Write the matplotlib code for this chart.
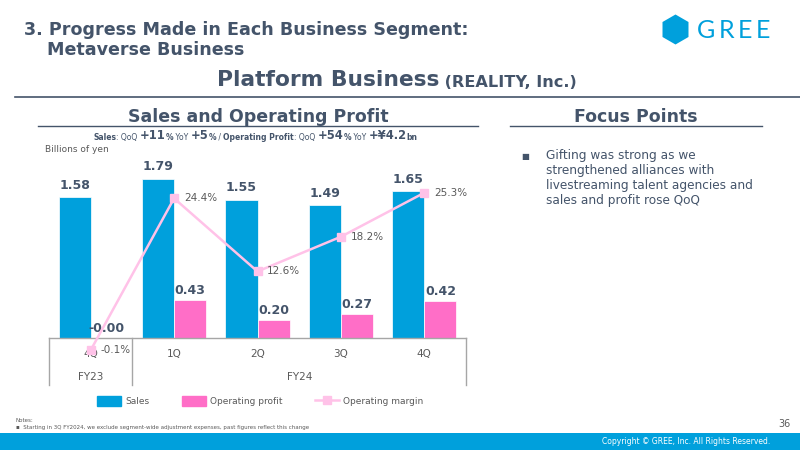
import matplotlib.pyplot as plt
from matplotlib.patches import Rectangle, RegularPolygon
from matplotlib.lines import Line2D
import numpy as np

# Data
quarters = ["4Q", "1Q", "2Q", "3Q", "4Q"]
fiscal_years = ["FY23", "FY24"]
fy_spans = [(0, 0), (1, 4)]
sales = [1.58, 1.79, 1.55, 1.49, 1.65]
op_profit = [-0.001, 0.43, 0.20, 0.27, 0.42]
op_margin = [-0.1, 24.4, 12.6, 18.2, 25.3]

focus_lines = ["Gifting was strong as we", "strengthened alliances with",
               "livestreaming talent agencies and", "sales and profit rose QoQ"]

BLUE = "#00A0DC"
PINK = "#FF6EC7"
LPINK = "#FFC2E8"
DARK = "#44546A"
GRAY = "#595959"

fig = plt.figure(figsize=(8, 4.5), dpi=100)

# background layer in pixel coordinates
bg = fig.add_axes([0, 0, 1, 1])
bg.set_xlim(0, 800)
bg.set_ylim(450, 0)
bg.axis("off")

bg.text(24, 30, "3. Progress Made in Each Business Segment:", fontsize=12.6,
        fontweight="bold", color=DARK, va="center")
bg.text(47, 50, "Metaverse Business", fontsize=12.6, fontweight="bold",
        color=DARK, va="center")
t = bg.text(217, 80, "Platform Business", fontsize=15.7, fontweight="bold",
            color=DARK, va="center")
bg.annotate(" (REALITY, Inc.)", xy=(1, 0), xycoords=t, va="bottom",
            fontsize=11.6, fontweight="bold", color=DARK)
bg.plot([15, 800], [97, 97], color=DARK, lw=1.2)

# logo
bg.add_patch(RegularPolygon((675.5, 29.5), numVertices=6, radius=15,
                            color=BLUE, ec="none"))
prev = bg.text(697, 30, "G", fontsize=18, color=BLUE, va="center",
               family="Lato")
for ch in "REE":
    prev = bg.annotate(ch, xy=(1, 0), xycoords=prev, xytext=(2.6, 0),
                       textcoords="offset points", va="bottom", fontsize=18,
                       color=BLUE, family="Lato")

# section headers
bg.text(258, 117, "Sales and Operating Profit", fontsize=12.5,
        fontweight="bold", color=DARK, ha="center", va="center")
bg.plot([38, 478], [126, 126], color=DARK, lw=1)
bg.text(636, 117, "Focus Points", fontsize=12.5, fontweight="bold",
        color=DARK, ha="center", va="center")
bg.plot([510, 762], [126, 126], color=DARK, lw=1)

# subtitle built from pieces
pieces = [("Sales", 5.5, "bold"), (": QoQ ", 5.5, "normal"),
          ("+11", 8.3, "bold"), ("%", 5.5, "bold"), (" YoY ", 5.5, "normal"),
          ("+5", 8.3, "bold"), ("%", 5.5, "bold"), (" / ", 5.5, "normal"),
          ("Operating Profit", 5.5, "bold"), (": QoQ ", 5.5, "normal"),
          ("+54", 8.3, "bold"), ("%", 5.5, "bold"), (" YoY ", 5.5, "normal"),
          ("+¥4.2", 8.3, "bold"), ("bn", 5.5, "bold")]
prev = bg.text(93, 140, pieces[0][0], fontsize=pieces[0][1],
               fontweight=pieces[0][2], color=DARK, va="baseline")
for txt, fs, fw in pieces[1:]:
    prev = bg.annotate(txt, xy=(1, 0), xycoords=prev, va="bottom",
                       fontsize=fs, fontweight=fw, color=DARK)
bg.text(45, 150, "Billions of yen", fontsize=6.5, color=GRAY, va="center")

# focus points
bg.text(521, 156, "■", fontsize=6, color=DARK, va="center")
for i, line in enumerate(focus_lines):
    bg.text(546, 156 + i * 14.7, line, fontsize=8.7, color=DARK, va="center")

# footer
bg.add_patch(Rectangle((0, 433), 800, 17, color=BLUE, ec="none"))
bg.text(770, 442, "Copyright © GREE, Inc. All Rights Reserved.", fontsize=5.5,
        color="white", ha="right", va="center")
bg.text(791, 424, "36", fontsize=7, color=GRAY, ha="right", va="center")
bg.text(15, 421, "Notes:", fontsize=4, color=GRAY, va="center")
bg.text(16, 428, "▪  Starting in 3Q FY2024, we exclude segment-wide adjustment "
        "expenses, past figures reflect this change", fontsize=4,
        color=GRAY, va="center")

# chart
ax = fig.add_axes([49 / 800, 1 - 338 / 450, 417 / 800, 188 / 450])
ax.patch.set_alpha(0)
x = np.arange(len(quarters))
w = 0.386
ax.bar(x - w / 2, sales, w, color=BLUE, ec="white", lw=0.5)
ax.bar(x + w / 2, op_profit, w, color=PINK, ec="white", lw=0.5)
ax.set_xlim(-0.5, 4.5)
ax.set_ylim(0, 2.112)
for s in ["top", "left", "right", "bottom"]:
    ax.spines[s].set_visible(False)
ax.set_yticks([])
ax.set_xticks(x)
ax.set_xticklabels(quarters, fontsize=7.5, color=GRAY)
ax.tick_params(axis="x", length=0, pad=8)

for xi, v in zip(x, sales):
    ax.annotate(f"{v:.2f}", (xi - w / 2, v), xytext=(0, 4),
                textcoords="offset points", ha="center", va="bottom",
                fontsize=9, fontweight="bold", color=DARK)
for xi, v in zip(x, op_profit):
    ax.annotate(f"{v:.2f}", (xi + w / 2, max(v, 0)), xytext=(0, 2),
                textcoords="offset points", ha="center", va="bottom",
                fontsize=9, fontweight="bold", color=DARK)

# category table lines
tr = ax.get_xaxis_transform()
ax.plot([-0.5, 4.5], [0, 0], color="#A6A6A6", lw=1, transform=tr,
        clip_on=False)
for xb in [-0.5, 0.5, 4.5]:
    ax.plot([xb, xb], [0, -0.25], color="#A6A6A6", lw=1, transform=tr,
            clip_on=False)
for fy, (a, b) in zip(fiscal_years, fy_spans):
    ax.text((a + b) / 2, -0.21, fy, fontsize=7.5, color=GRAY, ha="center",
            va="center", transform=tr)

# operating margin on a secondary scale (0% sits just below the bar baseline)
ax2 = ax.twinx()
ax2.plot(x, op_margin, color=LPINK, lw=1.8, marker="s", markersize=6,
         clip_on=False)
ax2.set_ylim(1.86, 32.2)
ax2.axis("off")
for xi, v in zip(x, op_margin):
    ax2.annotate(f"{v:.1f}%", (xi, v), xytext=(7, 0),
                 textcoords="offset points", ha="left", va="center",
                 fontsize=7.5, color=GRAY, annotation_clip=False)

# legend
handles = [Rectangle((0, 0), 1, 1, color=BLUE),
           Rectangle((0, 0), 1, 1, color=PINK),
           Line2D([], [], color=LPINK, lw=1.8, marker="s", markersize=6)]
fig.legend(handles, ["Sales", "Operating profit", "Operating margin"],
           loc="center", bbox_to_anchor=(260 / 800, 1 - 401 / 450), ncol=3,
           frameon=False, fontsize=6.5, labelcolor=GRAY, columnspacing=3.6,
           handlelength=2.7, handleheight=1.3, handletextpad=0.4)

fig.savefig("out.png", dpi=100)
